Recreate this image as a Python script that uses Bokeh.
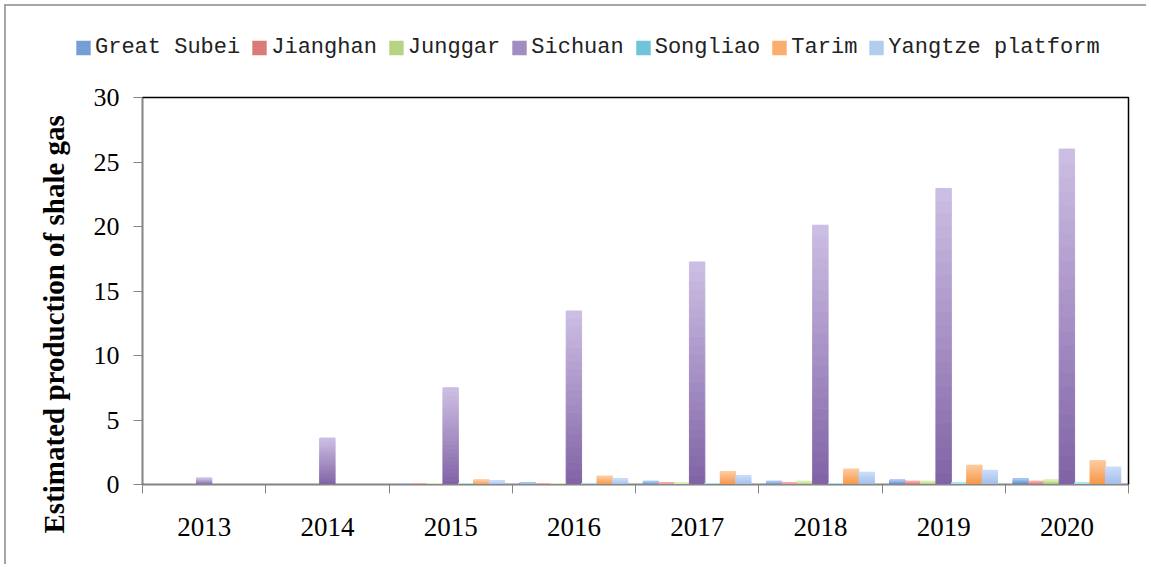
from bokeh.plotting import figure
from bokeh.layouts import column
from bokeh.models import (ColumnDataSource, Range1d, FixedTicker, Legend, LegendItem, Title)
from bokeh.embed import file_html
from bokeh.resources import INLINE

years = ["2013", "2014", "2015", "2016", "2017", "2018", "2019", "2020"]
series_names = ["Great Subei", "Jianghan", "Junggar", "Sichuan", "Songliao", "Tarim", "Yangtze platform"]
great_subei = [0, 0, 0.05, 0.15, 0.25, 0.25, 0.35, 0.45]
jianghan = [0, 0, 0.03, 0.05, 0.15, 0.15, 0.25, 0.25]
junggar = [0, 0, 0.03, 0.03, 0.1, 0.25, 0.25, 0.35]
sichuan = [0.5, 3.6, 7.5, 13.45, 17.25, 20.1, 22.95, 26.0]
songliao = [0, 0, 0.05, 0.03, 0.05, 0.05, 0.1, 0.1]
tarim = [0, 0, 0.35, 0.65, 1.0, 1.2, 1.5, 1.85]
yangtze = [0, 0, 0.3, 0.45, 0.7, 0.95, 1.1, 1.35]
series_values = [great_subei, jianghan, junggar, sichuan, songliao, tarim, yangtze]
y_ticks = [0, 5, 10, 15, 20, 25, 30]

# (top colour, bottom colour) gradient per series
top_colors = ["#a9c6f2", "#f6aeac", "#dbefb8", "#cdbfe4", "#a8e4f4", "#fdca9f", "#cadcfa"]
bottom_colors = ["#4a7ebb", "#c4514e", "#9cbc5a", "#8062a5", "#42a9c5", "#f79543", "#a2bde8"]


def hex2rgb(h):
    h = h.lstrip("#")
    return tuple(int(h[i:i + 2], 16) for i in (0, 2, 4))


def mix(c1, c2, t):
    a, b = hex2rgb(c1), hex2rgb(c2)
    return "#%02x%02x%02x" % tuple(int(round(a[i] + (b[i] - a[i]) * t)) for i in range(3))


W = 1140
p = figure(width=W, height=476, output_backend="svg", toolbar_location=None,
           x_range=Range1d(0, len(years)), y_range=Range1d(0, 30),
           min_border_left=136, min_border_right=18, min_border_top=9, min_border_bottom=80)
p.xgrid.visible = False
p.ygrid.visible = False
p.outline_line_color = "black"
p.outline_line_width = 1.5
p.background_fill_color = "white"
p.border_fill_color = "white"

n = len(series_names)
bw = 1.0 / (n + 1)
K = 24
for i, (name, vals) in enumerate(zip(series_names, series_values)):
    xs, bots, tops, cols = [], [], [], []
    for j, v in enumerate(vals):
        if v <= 0:
            continue
        xc = j + 0.5 + (i - (n - 1) / 2) * bw
        for k in range(K):
            xs.append(xc)
            bots.append(v * k / K)
            tops.append(v * (k + 1) / K)
            cols.append(mix(bottom_colors[i], top_colors[i], (k + 0.5) / K))
    src = ColumnDataSource(dict(x=xs, bottom=bots, top=tops, color=cols))
    p.vbar(x="x", bottom="bottom", top="top", width=bw, fill_color="color",
           line_color="color", line_width=1.0, source=src)

# y axis
p.yaxis.ticker = FixedTicker(ticks=y_ticks)
p.yaxis.axis_line_color = "#868686"
p.yaxis.major_tick_line_color = "#868686"
p.yaxis.major_tick_out = 9
p.yaxis.major_tick_in = 0
p.yaxis.minor_tick_line_color = None
p.yaxis.major_label_text_font = "Liberation Serif"
p.yaxis.major_label_text_font_size = "26px"
p.yaxis.major_label_text_color = "black"
p.yaxis.major_label_standoff = 14

# x axis
centers = [j + 0.5 for j in range(len(years))]
p.xaxis.ticker = FixedTicker(ticks=centers, minor_ticks=list(range(len(years) + 1)))
p.xaxis.major_label_overrides = {c: y for c, y in zip(centers, years)}
p.xaxis.axis_line_color = "#868686"
p.xaxis.major_tick_line_color = None
p.xaxis.minor_tick_line_color = "#868686"
p.xaxis.minor_tick_out = 9
p.xaxis.minor_tick_in = 0
p.xaxis.major_tick_out = 0
p.xaxis.major_label_text_font = "Liberation Serif"
p.xaxis.major_label_text_font_size = "27px"
p.xaxis.major_label_text_color = "black"
p.xaxis.major_label_standoff = 24

# y axis title
ytitle = Title(text="Estimated production of shale gas", align="left", offset=-49, standoff=42,
               text_font="Liberation Serif", text_font_style="bold", text_font_size="29px",
               text_color="black")
p.add_layout(ytitle, "left")

# legend strip above the chart
lf = figure(width=W, height=82, output_backend="svg", toolbar_location=None,
            x_range=Range1d(0, 1), y_range=Range1d(0, 1),
            min_border=0, min_border_left=0, min_border_right=0, min_border_top=0, min_border_bottom=0)
lf.axis.visible = False
lf.grid.visible = False
lf.outline_line_color = None
lf.background_fill_color = "white"
lf.border_fill_color = "white"
items = []
for i, nm in enumerate(series_names):
    r = lf.vbar(x=[0], top=[0], width=0, fill_color=mix(bottom_colors[i], top_colors[i], 0.45),
                line_color=None)
    items.append(LegendItem(label=nm, renderers=[r]))
legend = Legend(items=items, orientation="horizontal", location="center_left",
                glyph_width=18, glyph_height=18, label_standoff=3, spacing=10,
                padding=0, margin=68, border_line_color=None, background_fill_alpha=0,
                label_text_font="Liberation Mono", label_text_font_size="22px",
                label_text_color="#222222")
lf.add_layout(legend, "center")

for fig in (lf, p):
    if "frame_align" in fig.properties():
        fig.frame_align = False

layout = column(lf, p, spacing=0)
layout.styles = {"margin-left": "4px", "margin-top": "4px",
                 "border-left": "2px solid #a6a6a6", "border-top": "2px solid #a6a6a6"}

open("out.html", "w").write(file_html(layout, INLINE))
